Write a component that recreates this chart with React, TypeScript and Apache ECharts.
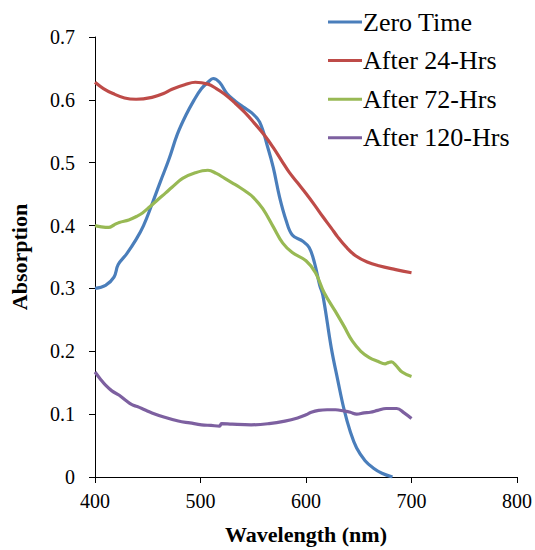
import React, { useEffect, useRef } from "react";
import * as echarts from "echarts";

const seriesNames = ["Zero Time", "After 24-Hrs", "After 72-Hrs", "After 120-Hrs"];
const seriesColors = ["#4A7EBB", "#BE4B48", "#98B954", "#7D60A0"];

const zeroX = [400, 410, 418, 422, 430, 439, 446, 454, 462, 470, 478, 486, 494, 501, 507, 512, 518, 525, 533, 541, 548, 556, 564, 569, 575, 581, 587, 597, 603, 608, 613, 616, 624, 630, 636, 642, 648, 656, 664, 672, 682];
const zeroY = [0.300, 0.305, 0.318, 0.338, 0.355, 0.378, 0.400, 0.434, 0.470, 0.505, 0.545, 0.575, 0.600, 0.618, 0.628, 0.634, 0.628, 0.610, 0.598, 0.588, 0.580, 0.565, 0.523, 0.492, 0.445, 0.409, 0.385, 0.375, 0.365, 0.341, 0.305, 0.289, 0.205, 0.155, 0.108, 0.072, 0.046, 0.026, 0.014, 0.006, 0.000];

const h24X = [400, 408, 417, 428, 439, 454, 465, 473, 485, 495, 507, 515, 523, 532, 542, 551, 561, 569, 577, 584, 592, 600, 608, 616, 624, 630, 638, 647, 658, 669, 685, 700];
const h24Y = [0.628, 0.618, 0.610, 0.603, 0.601, 0.604, 0.610, 0.617, 0.624, 0.628, 0.625, 0.618, 0.609, 0.596, 0.580, 0.563, 0.543, 0.524, 0.503, 0.485, 0.468, 0.451, 0.433, 0.414, 0.396, 0.382, 0.366, 0.352, 0.342, 0.336, 0.330, 0.325];

const h72X = [400, 406, 413, 418, 423, 432, 440, 445, 452, 460, 467, 473, 483, 495, 507, 515, 523, 530, 537, 544, 550, 559, 569, 578, 587, 600, 609, 617, 628, 636, 644, 652, 660, 668, 675, 678, 681, 685, 691, 700];
const h72Y = [0.400, 0.398, 0.397, 0.401, 0.405, 0.409, 0.415, 0.420, 0.430, 0.442, 0.452, 0.461, 0.475, 0.484, 0.488, 0.483, 0.475, 0.468, 0.461, 0.453, 0.445, 0.427, 0.398, 0.372, 0.357, 0.344, 0.325, 0.294, 0.263, 0.240, 0.216, 0.200, 0.190, 0.184, 0.180, 0.182, 0.183, 0.178, 0.167, 0.160];

const h120X = [400, 405, 410, 416, 423, 429, 435, 440, 447, 454, 466, 479, 490, 501, 510, 518, 520, 530, 548, 565, 580, 592, 600, 605, 612, 620, 628, 636, 642, 648, 655, 661, 668, 676, 686, 693, 700];
const h120Y = [0.167, 0.156, 0.146, 0.137, 0.130, 0.122, 0.115, 0.112, 0.107, 0.102, 0.095, 0.089, 0.086, 0.083, 0.082, 0.081, 0.085, 0.084, 0.083, 0.085, 0.089, 0.094, 0.099, 0.103, 0.106, 0.107, 0.107, 0.105, 0.103, 0.100, 0.102, 0.103, 0.106, 0.109, 0.109, 0.102, 0.093];

const xTicks = { min: 400, max: 800, interval: 100 };
const yTicks = { min: 0, max: 0.7, interval: 0.1 };

const FONT = "'Liberation Serif', 'Times New Roman', serif";

function pairs(xs: number[], ys: number[]) {
  return xs.map((x, i) => [x, ys[i]]);
}

export default function App() {
  const ref = useRef<HTMLDivElement>(null);
  useEffect(() => {
    if (!ref.current) return;
    const chart = echarts.init(ref.current, undefined, { renderer: "svg" });
    const allX = [zeroX, h24X, h72X, h120X];
    const allY = [zeroY, h24Y, h72Y, h120Y];
    chart.setOption({
      animation: false,
      backgroundColor: "#ffffff",
      textStyle: { fontFamily: FONT },
      grid: { left: 94, right: 15, top: 37, bottom: 65, containLabel: false },
      legend: {
        orient: "vertical",
        left: 328,
        top: 9,
        padding: 0,
        itemGap: 12.6,
        itemWidth: 34,
        itemHeight: 3,
        icon: "rect",
        data: seriesNames,
        textStyle: { fontFamily: FONT, fontSize: 26, color: "#000", lineHeight: 26, padding: [0, 0, 0, -4] },
      },
      xAxis: {
        type: "value",
        min: xTicks.min,
        max: xTicks.max,
        interval: xTicks.interval,
        name: "Wavelength (nm)",
        nameLocation: "middle",
        nameGap: 46,
        nameTextStyle: { fontFamily: FONT, fontSize: 22, fontWeight: "bold", color: "#000" },
        axisLine: { show: true, lineStyle: { color: "#000", width: 1 } },
        axisTick: { show: true, inside: false, length: 6, lineStyle: { color: "#000" } },
        axisLabel: { fontFamily: FONT, fontSize: 20, color: "#000", margin: 14 },
        splitLine: { show: false },
      },
      yAxis: {
        type: "value",
        min: yTicks.min,
        max: yTicks.max,
        interval: yTicks.interval,
        name: "Absorption",
        nameLocation: "middle",
        nameGap: 65,
        nameTextStyle: { fontFamily: FONT, fontSize: 22, fontWeight: "bold", color: "#000" },
        axisLine: { show: true, lineStyle: { color: "#000", width: 1 } },
        axisTick: { show: true, inside: false, length: 6, lineStyle: { color: "#000" } },
        axisLabel: { fontFamily: FONT, fontSize: 20, color: "#000", margin: 20 },
        splitLine: { show: false },
      },
      series: seriesNames.map((name, i) => ({
        name,
        type: "line",
        data: pairs(allX[i], allY[i]),
        smooth: 0.4,
        showSymbol: false,
        symbol: "none",
        color: seriesColors[i],
        lineStyle: { color: seriesColors[i], width: 3.2 },
      })),
    });
    return () => chart.dispose();
  }, []);
  return <div ref={ref} style={{ width: 535, height: 550, position: "absolute", left: 0, top: 0 }} />;
}
